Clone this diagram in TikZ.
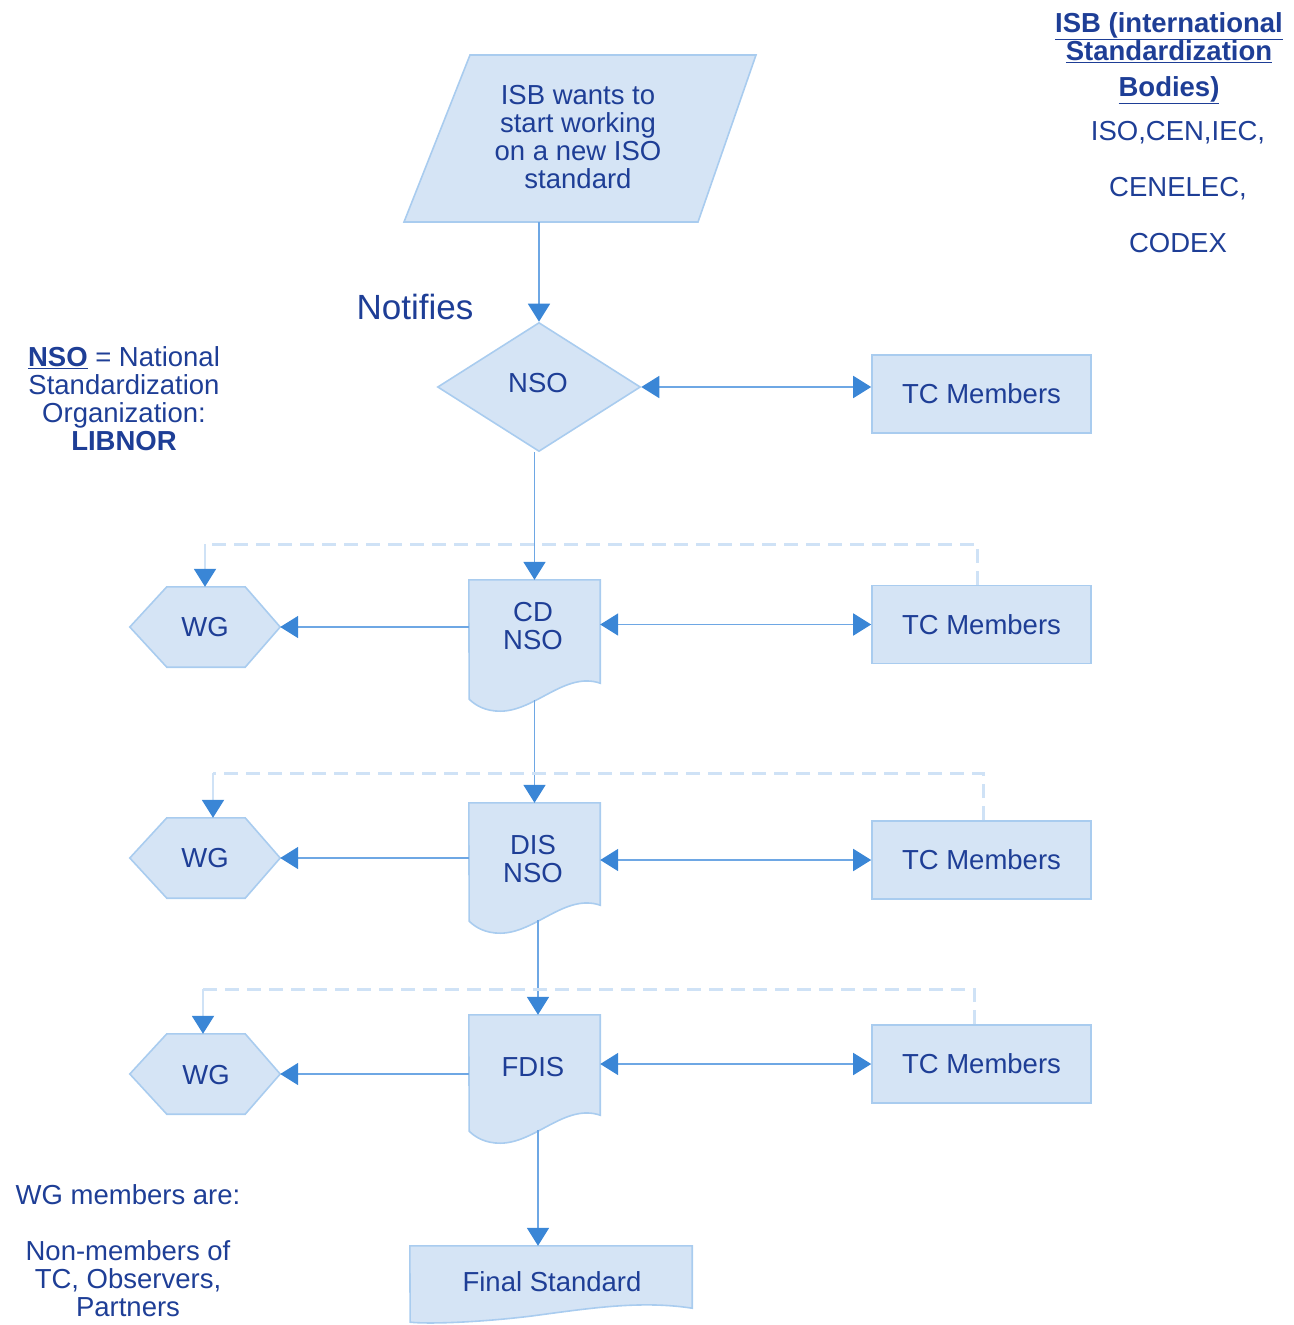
\documentclass[tikz,border=0pt]{standalone}
\usepackage{fontspec}
\setmainfont{Liberation Sans}
\usetikzlibrary{arrows.meta,shapes.geometric,calc}
\pgfdeclarelayer{bg}
\pgfsetlayers{bg,main}
\definecolor{fillblue}{RGB}{213,228,245}
\definecolor{borderblue}{RGB}{169,204,239}
\definecolor{lineblue}{RGB}{110,167,228}
\definecolor{arrowblue}{RGB}{58,134,214}
\definecolor{dashblue}{RGB}{207,226,246}
\definecolor{textblue}{RGB}{30,62,150}
\tikzset{
  txt/.style={text=textblue, align=center, inner sep=0pt, font=\fontsize{27.5}{28}\selectfont},
  shapefill/.style={fill=fillblue, draw=borderblue, line width=1.6pt, line join=miter},
  holder/.style={draw=none, fill=none, inner sep=0pt, rectangle},
  tcbox/.style={rectangle, shapefill, minimum width=219, minimum height=78, txt},
  tip/.tip={Triangle[width=22pt,length=18pt,color=arrowblue]},
  conn/.style={draw=lineblue, line width=1.8pt, -tip},
  dconn/.style={draw=lineblue, line width=1.8pt, tip-tip},
  dashline/.style={draw=dashblue, line width=3pt, dash pattern=on 14pt off 8pt},
  feed/.style={draw=dashblue, line width=2pt, -tip},
}
\begin{document}
\begin{tikzpicture}[x=1pt,y=-1pt]
\useasboundingbox (0,0) rectangle (1293,1325);

% ---------- shape holders ----------
\node[holder, minimum width=352, minimum height=167] (isb) at (580,138.5) {};
\node[diamond, shapefill, minimum width=203, minimum height=129, aspect=1.57, inner sep=0pt] (nso) at (539,387) {};
\node[holder, minimum width=131, minimum height=103] (cd) at (534.5,631.5) {};
\node[holder, minimum width=131, minimum height=102] (dis) at (534.5,854) {};
\node[holder, minimum width=131, minimum height=100] (fdis) at (534.5,1065) {};
\node[holder, minimum width=282, minimum height=62] (fs) at (551,1277) {};
\node[holder, minimum width=150, minimum height=80] (wg1) at (205,627) {};
\node[holder, minimum width=150, minimum height=80] (wg2) at (205,858) {};
\node[holder, minimum width=150, minimum height=80] (wg3) at (205,1074) {};

\node[tcbox] (tc1) at (981.5,394) {TC Members};
\node[tcbox] (tc2) at (981.5,624.5) {TC Members};
\node[tcbox] (tc3) at (981.5,860) {TC Members};
\node[tcbox] (tc4) at (981.5,1064) {TC Members};

\begin{pgfonlayer}{bg}
  % parallelogram
  \path[shapefill] (470,55) -- (756,55) -- (698,222) -- (404,222) -- cycle;
  % documents
  \foreach \d in {cd,dis,fdis}{
    \path[shapefill] (\d.north west) -- (\d.north east) -- (\d.south east)
      .. controls ($(\d.south east)+(-35,-12)$) and ($(\d.south east)+(-65,28)$) .. ($(\d.south east)+(-100,28)$)
      .. controls ($(\d.south east)+(-115,28)$) and ($(\d.south east)+(-125,22)$) .. ($(\d.south east)+(-131,16)$)
      -- cycle;
  }
  \path[shapefill] (fs.north west) -- (fs.north east) -- (fs.south east)
      .. controls ($(fs.south east)+(-52,-8)$) and ($(fs.south east)+(-102,0)$) .. ($(fs.south east)+(-162,8)$)
      .. controls ($(fs.south east)+(-212,14)$) and ($(fs.south east)+(-262,16)$) .. ($(fs.south east)+(-282,14)$)
      -- cycle;
  % hexagons
  \foreach \w in {wg1,wg2,wg3}{
    \path[shapefill] (\w.west) -- ([xshift=37pt]\w.north west) -- ([xshift=-35pt]\w.north east)
      -- (\w.east) -- ([xshift=-35pt]\w.south east) -- ([xshift=37pt]\w.south west) -- cycle;
  }
\end{pgfonlayer}

% ---------- texts in shapes ----------
\node[txt] (isbtext) at (578,137) {ISB wants to\\start working\\on a new ISO\\standard};
\node[txt] (nsotext) at (538,383) {NSO};
\node[txt] (cdtext) at (533,626) {CD\\NSO};
\node[txt] (distext) at (533,859) {DIS\\NSO};
\node[txt] (fdistext) at (533,1067) {FDIS};
\node[txt] (fstext) at (552,1282) {Final Standard};
\node[txt] (wg1text) at (205,627) {WG};
\node[txt] (wg2text) at (205,858) {WG};
\node[txt] (wg3text) at (206,1075) {WG};

% ---------- free texts ----------
\node[txt, font=\fontsize{35}{40}\selectfont] (notif) at (415,307) {Notifies};
\node[txt] (nsonote) at (124,399) {\underline{\textbf{NSO}} = National\\Standardization\\Organization:\\\textbf{LIBNOR}};
\node[txt, anchor=north, font=\bfseries\fontsize{27.5}{28}\selectfont] (isbnote) at (1169,12)
  {\underline{ISB (international}\\\underline{Standardization}\\[8pt]\underline{Bodies)}};
\node[txt, font=\fontsize{27.5}{56}\selectfont] (bodies) at (1178,187) {ISO,CEN,IEC,\\CENELEC,\\CODEX};
\node[txt] (wgnote) at (128,1251) {WG members are:\\[28pt]Non-members of\\TC, Observers,\\Partners};

% ---------- connectors ----------
\draw[conn] (isb.south -| nso.north) -- (nso.north);
\draw[dconn] (nso.east) -- (nso.east -| tc1.west);
\draw[conn] (nso.south -| cd.north) -- (cd.north);

\draw[conn] (cd.west |- wg1.east) -- (wg1.east);
\draw[dconn] (cd.east |- tc2.west) -- (tc2.west);
\draw[conn] ([yshift=-17pt]cd.south) -- (dis.north);

\draw[conn] (dis.west |- wg2.east) -- (wg2.east);
\draw[dconn] (dis.east |- tc3.west) -- (tc3.west);
\draw[conn] ([xshift=3.5pt,yshift=-15pt]dis.south) -- ([xshift=3.5pt]fdis.north);

\draw[conn] (fdis.west |- wg3.east) -- (wg3.east);
\draw[dconn] (fdis.east |- tc4.west) -- (tc4.west);
\draw[conn] ([xshift=3.5pt,yshift=-15pt]fdis.south) -- ([xshift=3.5pt]fdis.south |- fs.north);

% ---------- dashed feedback ----------
\coordinate (k1) at (977,544);
\coordinate (j1) at (205,544);
\draw[dashline] (k1 |- tc2.north) -- (k1) -- (j1);
\draw[feed] (j1) -- (wg1.north);

\coordinate (k2) at (983,773);
\coordinate (j2) at (213,773);
\draw[dashline] (k2 |- tc3.north) -- (k2) -- (j2);
\draw[feed] (j2) -- (j2 |- wg2.north);

\coordinate (k3) at (974,989);
\coordinate (j3) at (203,989);
\draw[dashline] (k3 |- tc4.north) -- (k3) -- (j3);
\draw[feed] (j3) -- (j3 |- wg3.north);
\end{tikzpicture}
\end{document}
